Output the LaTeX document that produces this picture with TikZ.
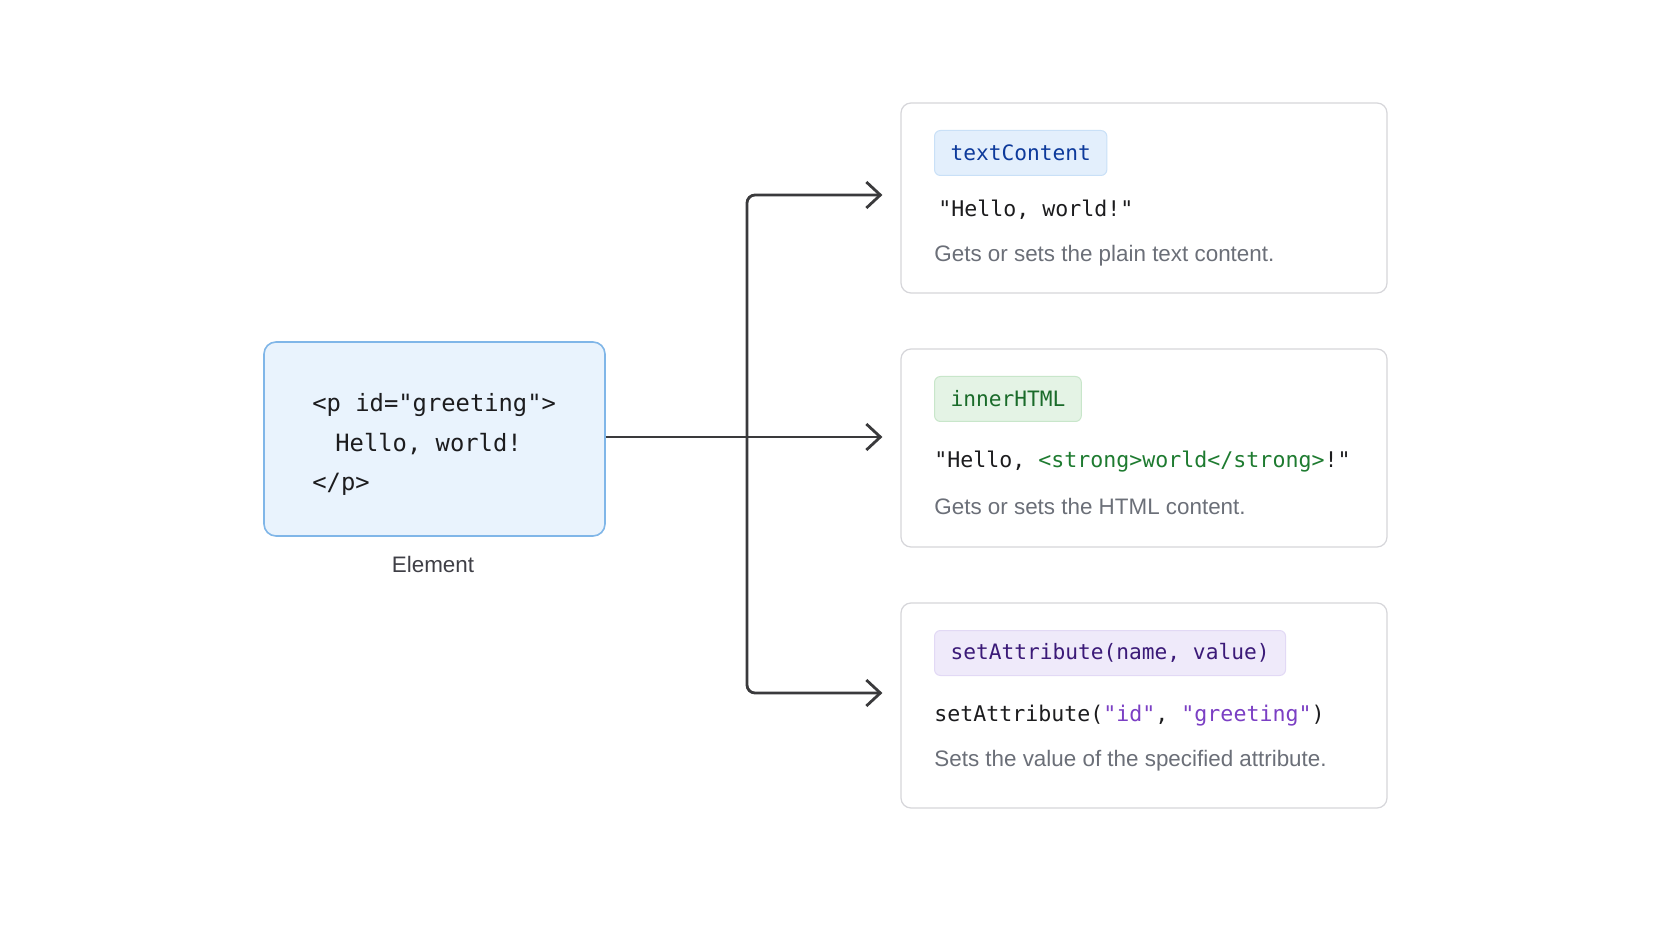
\documentclass[tikz,border=0pt]{standalone}
\usepackage{xcolor}
\usepackage{fontspec}
\setmainfont{Liberation Sans}
\setmonofont{DejaVu Sans Mono}
\usepackage{tikz}
\usetikzlibrary{positioning,arrows.meta,calc}

\definecolor{elfill}{HTML}{E9F3FD}
\definecolor{elline}{HTML}{80B6E8}
\definecolor{cardline}{HTML}{D6D6DA}
\definecolor{arrgray}{HTML}{3A3A3C}
\definecolor{codeink}{HTML}{1C1C1E}
\definecolor{descgray}{HTML}{6B6F78}
\definecolor{lblgray}{HTML}{3F3F46}
\definecolor{tcfill}{HTML}{E3EFFC}
\definecolor{tcline}{HTML}{C9E0F7}
\definecolor{tcink}{HTML}{0D3A9B}
\definecolor{ihfill}{HTML}{E4F3E5}
\definecolor{ihline}{HTML}{C8E6CA}
\definecolor{ihink}{HTML}{1A6B2A}
\definecolor{htmlgreen}{HTML}{1E7B30}
\definecolor{safill}{HTML}{EFEAFA}
\definecolor{saline}{HTML}{E2D9F5}
\definecolor{saink}{HTML}{3B1A78}
\definecolor{attrpurple}{HTML}{7B3FC4}

\begin{document}
\begin{tikzpicture}[
  x=0.5pt, y=-0.5pt,
  font=\fontsize{11.2}{13}\selectfont, >={Straight Barb[length=7pt,width=13pt]},
  el/.style={draw=elline, line width=0.8pt, rounded corners=6pt, fill=elfill, minimum width=170.5pt, minimum height=97pt},
  card/.style={draw=cardline, line width=0.6pt, rounded corners=5pt, fill=white, minimum width=243pt},
  tag/.style={rounded corners=3pt, line width=0.5pt, inner xsep=8pt, minimum height=22.5pt, anchor=west, font=\ttfamily\fontsize{10.6}{13}\selectfont},
  code/.style={anchor=west, inner sep=0pt, font=\ttfamily\fontsize{10.8}{13}\selectfont, text=codeink},
  desc/.style={anchor=west, inner sep=0pt, text=descgray},
  arr/.style={->, line width=1.4pt, draw=arrgray, rounded corners=4pt, shorten >=9pt},
]
\fill[white] (0,0) rectangle (1672,941);
\useasboundingbox (0,0) rectangle (1672,941);

% element on the left
\node[el] (el) at (434.5,439) {};
\node[anchor=west, inner sep=0pt, align=left, text=codeink,
  font=\ttfamily\fontsize{11.9}{19.75}\selectfont] (elcode) at (312,444.5)
  {<p id="greeting">\\\hspace*{11.5pt}Hello, world!\\</p>};
\node[text=lblgray] (ellbl) at (433,564) {Element};

% the three cards
\node[card, minimum height=95pt] (tc) at (1144,198) {};
\node[card, minimum height=99pt] (ih) at (1144,448) {};
\node[card, minimum height=102.5pt] (sa) at (1144,705.5) {};

\node[tag, draw=tcline, fill=tcfill, text=tcink] (tctag) at (934,153) {textContent};
\node[code] (tcval) at (938,210) {"Hello, world!"};
\node[desc] (tcdesc) at (934,256) {Gets or sets the plain text content.};

\node[tag, draw=ihline, fill=ihfill, text=ihink] (ihtag) at (934,399) {innerHTML};
\node[code] (ihval) at (934,462)
  {"Hello, \textcolor{htmlgreen}{<strong>world</strong>}!"};
\node[desc] (ihdesc) at (934,506) {Gets or sets the HTML content.};

\node[tag, draw=saline, fill=safill, text=saink] (satag) at (934,653) {setAttribute(name, value)};
\node[code] (saval) at (934,716)
  {setAttribute(\textcolor{attrpurple}{"id"}, \textcolor{attrpurple}{"greeting"})};
\node[desc] (sadesc) at (934,761) {Sets the value of the specified attribute.};

% connectors
\coordinate (trunk) at (747,437);
\draw[arr] (el.east |- trunk) -- (trunk -| ih.west);
\draw[arr] (trunk) |- ([yshift=1.5pt]tc.west);
\draw[arr] (trunk) |- ([yshift=6.25pt]sa.west);
\end{tikzpicture}
\end{document}
